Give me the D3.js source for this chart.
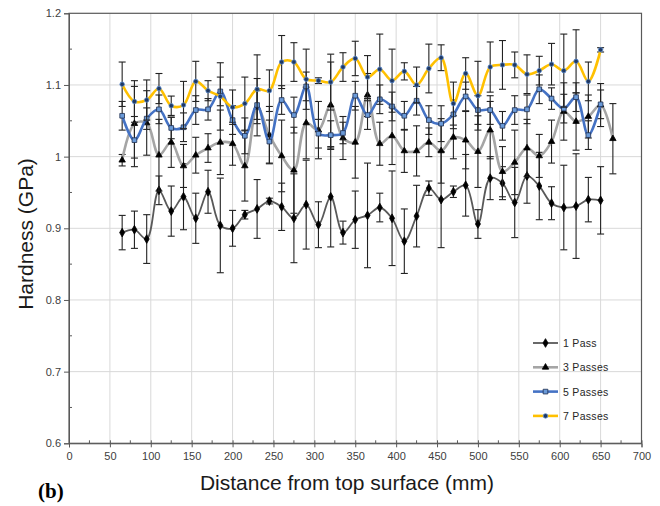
<!DOCTYPE html>
<html>
<head>
<meta charset="utf-8">
<script src="https://cdn.jsdelivr.net/npm/d3@7"></script>
<style>
  body { margin: 0; background: #fff; }
  text { font-family: "Liberation Sans", Arial, sans-serif; }
</style>
</head>
<body>
<script>
var distance = [65,80,95,110,125,140,155,170,185,200,215,230,245,260,275,290,305,320,335,350,
                365,380,395,410,425,440,455,470,485,500,515,530,545,560,575,590,605,620,635,650];
var distance3 = distance.concat([665]);

var pass1 = [0.894,0.898,0.885,0.953,0.924,0.944,0.914,0.951,0.904,0.900,
             0.919,0.927,0.938,0.930,0.914,0.933,0.905,0.944,0.894,0.912,
             0.918,0.929,0.914,0.882,0.917,0.956,0.940,0.951,0.960,0.906,
             0.970,0.963,0.936,0.973,0.959,0.935,0.929,0.931,0.940,0.939];
var err1 = [0.024,0.026,0.034,0.02,0.035,0.046,0.035,0.03,0.066,0.025,
            0.006,0.041,0.004,0.033,0.062,0.062,0.032,0.07,0.016,0.04,
            0.073,0.02,0.066,0.045,0.043,0.01,0.067,0.008,0.043,0.02,
            0.03,0.023,0.049,0.038,0.047,0.023,0.059,0.073,0.031,0.047];

var pass3 = [0.995,1.046,1.047,1.002,1.020,0.987,1.002,1.012,1.020,1.018,
             0.987,1.069,1.030,1.001,0.981,1.047,1.037,1.072,1.026,1.020,
             1.086,1.018,1.029,1.008,1.008,1.020,1.008,1.027,1.023,1.007,
             1.037,0.979,0.992,1.012,1.001,1.021,1.063,1.049,1.056,1.072,1.025];
var err3 = [0.008,0.06,0.045,0.05,0.035,0.03,0.025,0.02,0.045,0.03,
            0.049,0.04,0.04,0.05,0.06,0.05,0.04,0.06,0.03,0.05,
            0.03,0.03,0.04,0.03,0.035,0.02,0.045,0.03,0.04,0.05,
            0.04,0.035,0.045,0.04,0.03,0.03,0.04,0.04,0.03,0.03,0.049];

var pass5 = [1.057,1.023,1.053,1.066,1.040,1.041,1.065,1.066,1.091,1.051,
             1.029,1.072,1.021,1.079,1.058,1.098,1.032,1.030,1.033,1.085,
             1.058,1.080,1.070,1.057,1.078,1.051,1.046,1.059,1.084,1.065,
             1.065,1.043,1.065,1.066,1.094,1.081,1.067,1.083,1.030,1.073];
var err5 = [0.02,0.025,0.015,0.02,0.015,0.02,0.02,0.015,0.02,0.02,
            0.025,0.02,0.03,0.02,0.025,0.02,0.02,0.02,0.015,0.02,
            0.02,0.02,0.02,0.02,0.02,0.02,0.025,0.02,0.02,0.02,
            0.02,0.02,0.02,0.02,0.02,0.015,0.02,0.02,0.02,0.02];

var pass7 = [1.101,1.077,1.079,1.095,1.071,1.072,1.105,1.092,1.084,1.069,
             1.074,1.094,1.092,1.132,1.132,1.108,1.106,1.104,1.125,1.137,
             1.111,1.122,1.106,1.119,1.100,1.123,1.138,1.074,1.116,1.085,
             1.125,1.128,1.128,1.115,1.120,1.129,1.120,1.133,1.105,1.149];
var err7 = [0.031,0.021,0.028,0.021,0.0135,0.033,0.028,0.014,0.047,0.024,
            0.037,0.048,0.029,0.037,0.027,0.042,0.004,0.039,0.020,0.024,
            0.03,0.049,0.044,0.012,0.025,0.034,0.018,0.030,0.022,0.048,
            0.035,0.034,0.018,0.027,0.020,0.029,0.051,0.044,0.027,0.003];

var seriesNames = ["1 Pass", "3 Passes", "5 Passes", "7 Passes"];
var xTicks = d3.range(0, 701, 50);
var yTicks = [0.6, 0.7, 0.8, 0.9, 1, 1.1, 1.2];

var series = [
  {name: seriesNames[0], xs: distance,  ys: pass1, err: err1, color: "#595959", width: 1.8, marker: d3.symbolDiamond, size: 22, fill: "#000", stroke: "#000"},
  {name: seriesNames[1], xs: distance3, ys: pass3, err: err3, color: "#a5a5a5", width: 2.6, marker: d3.symbolTriangle, size: 18, fill: "#000", stroke: "#000"},
  {name: seriesNames[2], xs: distance,  ys: pass5, err: err5, color: "#4472c4", width: 2.6, marker: d3.symbolSquare, size: 22, fill: "#6a9ad8", stroke: "#1f2f4f"},
  {name: seriesNames[3], xs: distance,  ys: pass7, err: err7, color: "#ffc000", width: 2.6, marker: d3.symbolCircle, size: 16, fill: "#1f3864", stroke: "#5b8bd0"}
];

var svg = d3.select("body").append("svg")
    .attr("width", 660)
    .attr("height", 506);

var x = d3.scaleLinear().domain([0, 700]).range([69, 641.5]);
var y = d3.scaleLinear().domain([0.6, 1.2]).range([443.3, 13.3]);

// gridlines
svg.append("g").selectAll("line").data(xTicks.slice(1, -1)).enter().append("line")
    .attr("x1", function(d) { return x(d); }).attr("x2", function(d) { return x(d); })
    .attr("y1", y(0.6)).attr("y2", y(1.2))
    .attr("stroke", "#d9d9d9").attr("stroke-width", 1);
svg.append("g").selectAll("line").data(yTicks.slice(1, -1)).enter().append("line")
    .attr("x1", x(0)).attr("x2", x(700))
    .attr("y1", function(d) { return y(d); }).attr("y2", function(d) { return y(d); })
    .attr("stroke", "#d9d9d9").attr("stroke-width", 1);

// frame
svg.append("rect")
    .attr("x", x(0)).attr("y", y(1.2))
    .attr("width", x(700) - x(0)).attr("height", y(0.6) - y(1.2))
    .attr("fill", "none").attr("stroke", "#595959").attr("stroke-width", 1.2);

// axes
var xAxis = svg.append("g")
    .attr("transform", "translate(0," + y(0.6) + ")")
    .call(d3.axisBottom(x).tickValues(xTicks).tickSize(4).tickFormat(d3.format("d")));
var yAxis = svg.append("g")
    .attr("transform", "translate(" + x(0) + ",0)")
    .call(d3.axisLeft(y).tickValues(yTicks).tickSize(5).tickFormat(function(d) { return d === 1 ? "1" : d3.format(".1f")(d); }));

[xAxis, yAxis].forEach(function(a) {
  a.select(".domain").attr("stroke", "#595959");
  a.selectAll(".tick line").attr("stroke", "#595959");
  a.selectAll(".tick text").attr("fill", "#404040").style("font-size", "11px");
});
xAxis.selectAll(".tick line").attr("y1", -3);
xAxis.selectAll(".tick text").attr("dy", "0.9em");

// minor ticks
svg.append("g").selectAll("line").data(d3.range(25, 700, 50)).enter().append("line")
    .attr("x1", function(d) { return x(d); }).attr("x2", function(d) { return x(d); })
    .attr("y1", y(0.6)).attr("y2", y(0.6) - 3)
    .attr("stroke", "#595959");
svg.append("g").selectAll("line").data([0.65, 0.75, 0.85, 0.95, 1.05, 1.15]).enter().append("line")
    .attr("x1", x(0)).attr("x2", x(0) + 3)
    .attr("y1", function(d) { return y(d); }).attr("y2", function(d) { return y(d); })
    .attr("stroke", "#595959");

var line = d3.line().curve(d3.curveCatmullRom.alpha(0.5));

series.forEach(function(s) {
  var pts = s.xs.map(function(d, i) { return {x: d, y: s.ys[i], e: s.err[i]}; });
  var g = svg.append("g");

  // error bars
  var eb = g.selectAll(".eb").data(pts).enter().append("g");
  eb.append("line")
      .attr("x1", function(d) { return x(d.x); }).attr("x2", function(d) { return x(d.x); })
      .attr("y1", function(d) { return y(d.y - d.e); }).attr("y2", function(d) { return y(d.y + d.e); })
      .attr("stroke", "#222").attr("stroke-width", 1.1);
  [-1, 1].forEach(function(sgn) {
    eb.append("line")
        .attr("x1", function(d) { return x(d.x) - 3.5; }).attr("x2", function(d) { return x(d.x) + 3.5; })
        .attr("y1", function(d) { return y(d.y + sgn * d.e); }).attr("y2", function(d) { return y(d.y + sgn * d.e); })
        .attr("stroke", "#222").attr("stroke-width", 1.1);
  });

  g.append("path")
      .attr("d", line(pts.map(function(d) { return [x(d.x), y(d.y)]; })))
      .attr("fill", "none")
      .attr("stroke", s.color)
      .attr("stroke-width", s.width);

  g.selectAll(".mk").data(pts).enter().append("path")
      .attr("transform", function(d) { return "translate(" + x(d.x) + "," + y(d.y) + ")"; })
      .attr("d", d3.symbol().type(s.marker).size(s.size))
      .attr("fill", s.fill)
      .attr("stroke", s.stroke)
      .attr("stroke-width", 0.8);
});

// legend
var legend = svg.append("g");
series.forEach(function(s, i) {
  var ly = 343 + i * 24.3;
  legend.append("line")
      .attr("x1", 533).attr("x2", 558).attr("y1", ly).attr("y2", ly)
      .attr("stroke", s.color).attr("stroke-width", s.width);
  legend.append("path")
      .attr("transform", "translate(545.5," + ly + ")")
      .attr("d", d3.symbol().type(s.marker).size(s.size))
      .attr("fill", s.fill).attr("stroke", s.stroke).attr("stroke-width", 0.8);
  legend.append("text")
      .attr("x", 563).attr("y", ly + 4)
      .style("font-size", "10.5px").attr("fill", "#262626")
      .style("letter-spacing", "0.3px")
      .text(s.name);
});

// titles
svg.append("text")
    .attr("x", 347).attr("y", 490)
    .attr("text-anchor", "middle")
    .style("font-size", "21px").attr("fill", "#1a1a1a")
    .text("Distance from top surface (mm)");

svg.append("text")
    .attr("transform", "translate(33,234) rotate(-90)")
    .attr("text-anchor", "middle")
    .style("font-size", "21px").attr("fill", "#1a1a1a")
    .text("Hardness (GPa)");

svg.append("text")
    .attr("x", 38).attr("y", 498)
    .style("font-family", "'Liberation Serif', 'Times New Roman', serif")
    .style("font-size", "21px").style("font-weight", "bold")
    .text("(b)");
</script>
</body>
</html>
